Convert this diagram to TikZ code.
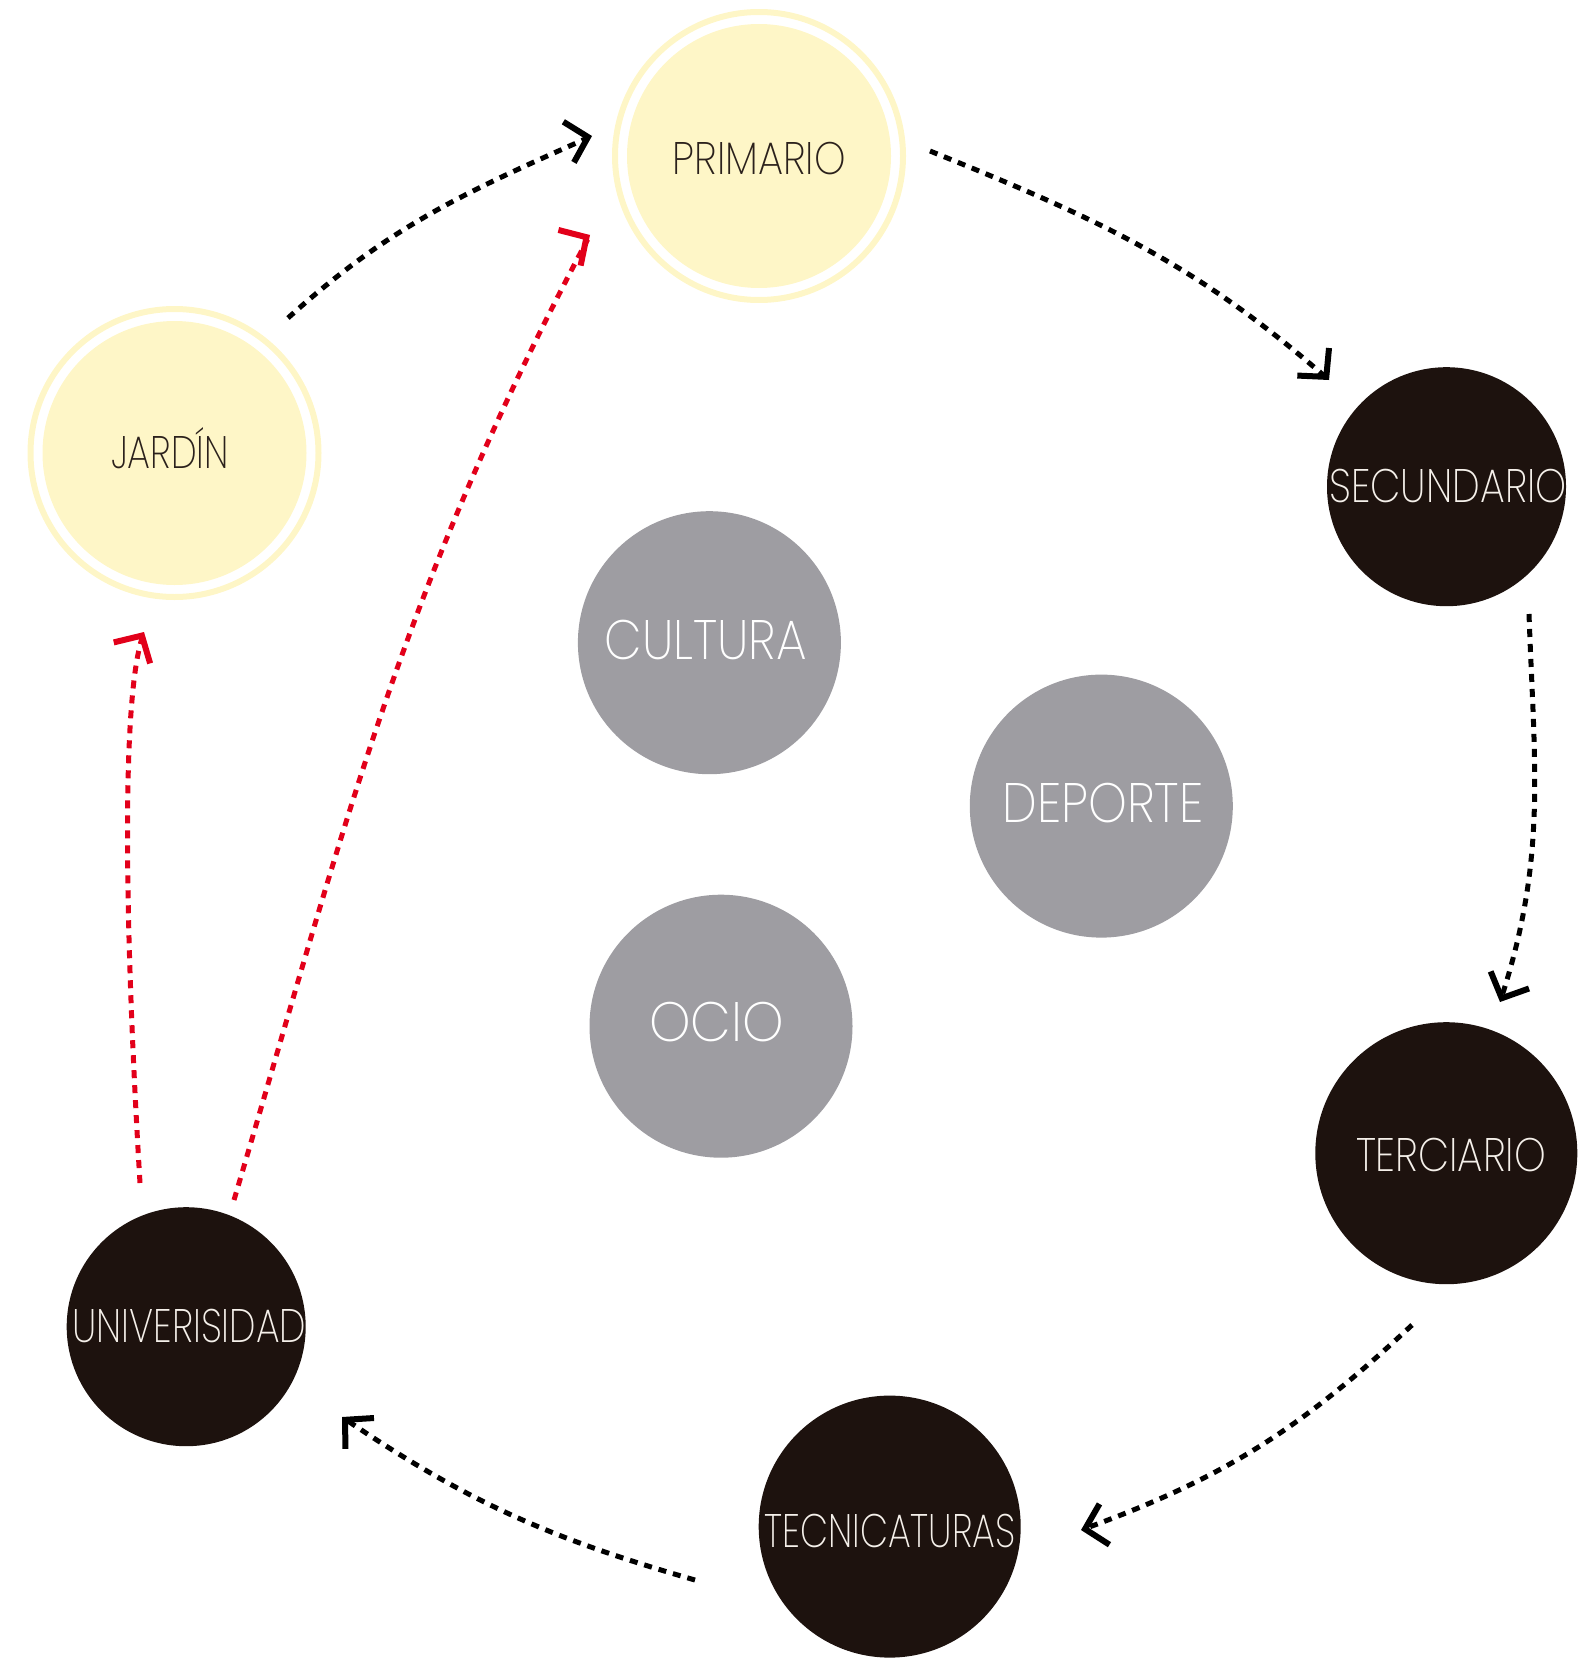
\documentclass[tikz,border=0pt]{standalone}
\usepackage{fontspec}
\usepackage{graphicx}
\usetikzlibrary{arrows.meta}
\IfFontExistsTF{Poppins ExtraLight}{\setmainfont{Poppins ExtraLight}}{%
  \IfFontExistsTF{Poppins Light}{\setmainfont{Poppins Light}}{\setmainfont{Poppins}}}
\definecolor{cyel}{HTML}{FEF6C7}
\definecolor{cblk}{HTML}{1D120E}
\definecolor{cgry}{HTML}{9E9DA2}
\definecolor{ctxd}{HTML}{2B211C}
\definecolor{ctxl}{HTML}{F5F0EA}
\definecolor{cred}{HTML}{E2001A}
\newsavebox\lblbox
\newsavebox\capbox
\newcommand\fitlbl[3]{%
  \sbox\lblbox{#3}\sbox\capbox{H}%
  \edef\tmpw{\the\wd\lblbox}\edef\tmph{\the\ht\capbox}%
  \pgfmathsetmacro\fsx{#1/\tmpw}%
  \pgfmathsetmacro\fsy{#2/\tmph}%
  \scalebox{\fsx}[\fsy]{#3}}
\tikzset{
  disc/.style={circle, inner sep=0pt, outer sep=0pt, draw=none},
  yel/.style={disc, fill=cyel, minimum size=264pt},
  blk/.style={disc, fill=cblk},
  gry/.style={disc, fill=cgry, minimum size=263pt},
  ring/.style={draw=cyel, line width=6pt},
  lbl/.style={inner sep=0pt, outer sep=0pt, anchor=base, font=\fontsize{45}{50}\selectfont},
  flow/.style={line width=5pt, dash pattern=on 8pt off 7pt, shorten >=5pt},
  bflow/.style={flow, draw=black},
  rflow/.style={flow, draw=cred},
  headtip/.style={line width=5pt, dash pattern=on 0pt off 60pt,
    -{Straight Barb[length=20pt,width=42pt,sharp,line width=6pt]}},
  bhead/.style={headtip, draw=black},
  rhead/.style={headtip, draw=cred},
}
\begin{document}
\begin{tikzpicture}[x=1pt,y=1pt]
\useasboundingbox (0,0) rectangle (1588,-1659);
% circles
\node[yel] (primario) at (759,-156) {};
\draw[ring] (primario.center) circle[radius=144];
\node[yel] (jardin) at (174.5,-453) {};
\draw[ring] (jardin.center) circle[radius=144];
\node[blk, minimum size=239pt] (secundario) at (1446.5,-486.7) {};
\node[blk, minimum size=262pt] (terciario) at (1446.3,-1153.2) {};
\node[blk, minimum size=262pt] (tecnicaturas) at (889.7,-1526.6) {};
\node[blk, minimum size=239pt] (univerisidad) at (186.2,-1326.7) {};
\node[gry] (cultura) at (709.4,-642.7) {};
\node[gry] (deporte) at (1101.3,-806.1) {};
\node[gry] (ocio) at (721,-1026.2) {};
% labels
\node[lbl, text=ctxd] (tprimario) at (759.4,-175) {\fitlbl{173}{32}{PRIMARIO}};
\node[lbl, text=ctxd] (tjardin) at (170,-468.3) {\fitlbl{118}{32}{JARDÍN}};
\node[lbl, text=ctxl] (tsecundario) at (1448,-502) {\fitlbl{237}{33}{SECUNDARIO}};
\node[lbl, text=ctxl] (tterciario) at (1451,-1171) {\fitlbl{190}{33}{TERCIARIO}};
\node[lbl, text=ctxl] (ttecnicaturas) at (890,-1547) {\fitlbl{251}{33}{TECNICATURAS}};
\node[lbl, text=ctxl] (tuniverisidad) at (189.4,-1342) {\fitlbl{234}{33}{UNIVERISIDAD}};
\node[lbl, text=white] (tcultura) at (705.7,-659) {\fitlbl{202}{39}{CULTURA}};
\node[lbl, text=white] (tdeporte) at (1103,-822) {\fitlbl{201}{39}{DEPORTE}};
\node[lbl, text=white] (tocio) at (716.8,-1041) {\fitlbl{135}{39}{OCIO}};
% connector ends
\coordinate (a1s) at (288,-318);   \coordinate (a1e) at (592,-136);
\coordinate (a2s) at (930,-151);   \coordinate (a2e) at (1329,-380);
\coordinate (a3s) at (1529,-614);  \coordinate (a3e) at (1500,-1002);
\coordinate (a4s) at (1412,-1325); \coordinate (a4e) at (1081,-1530);
\coordinate (a5s) at (695,-1580);  \coordinate (a5e) at (342,-1417);
\coordinate (r1s) at (140,-1183);  \coordinate (r1e) at (144,-632);
\coordinate (r2s) at (234,-1200);  \coordinate (r2e) at (590,-235);
% connectors
\draw[bflow] (a1s) to[out=42,in=204] (a1e);
\draw[bhead] (a1e) ++(194.6:10) -- (a1e);
\draw[bflow] (a2s) to[out=-22,in=139] (a2e);
\draw[bhead] (a2e) ++(131:10) -- (a2e);
\draw[bflow] (a3s) to[out=-88,in=72] (a3e);
\draw[bhead] (a3e) ++(66:10) -- (a3e);
\draw[bflow] (a4s) to[out=223,in=20] (a4e);
\draw[bhead] (a4e) ++(13.7:10) -- (a4e);
\draw[bflow] (a5s) to[out=164,in=-34] (a5e);
\draw[bhead] (a5e) ++(-42.8:10) -- (a5e);
\draw[rflow] (r1s) .. controls (126,-950) and (120,-705) .. (r1e);
\draw[rhead] (r1e) ++(240:10) -- (r1e);
\draw[rflow] (r2s) to[out=73.5,in=242] (r2e);
\draw[rhead] (r2e) ++(212:10) -- (r2e);
\end{tikzpicture}
\end{document}
